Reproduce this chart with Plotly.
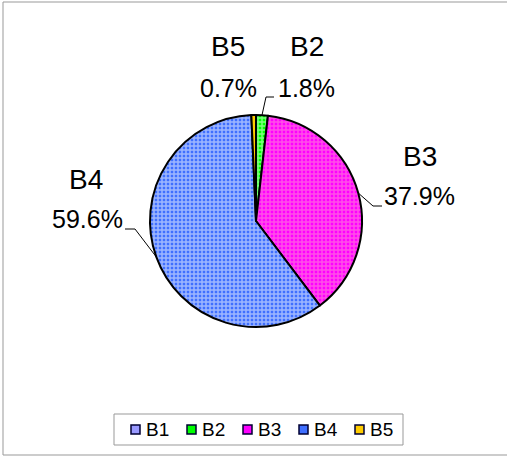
import math
import plotly.graph_objects as go

# ---- data ----
labels = ["B1", "B2", "B3", "B4", "B5"]
values = [0.0, 1.8, 37.9, 59.6, 0.7]
pct_text = ["0.0%", "1.8%", "37.9%", "59.6%", "0.7%"]

# ---- style ----
W, H = 507, 457
colors = ["#9999FF", "#00FF00", "#FF00FF", "#3F6FFF", "#FFCC00"]
fg = ["#FFFFFF", "#FFFFFF", "#FFA0D0", "#FFFFFF", "#FFCC00"]
shapes_pat = ["", "+", "+", "+", ""]

CX, CY, R = 256, 221, 106  # pie centre / radius in px


def px(x):
    return x / W


def py(y):
    return 1 - y / H


fig = go.Figure()
fig.add_trace(go.Pie(
    labels=labels, values=values, sort=False, direction="clockwise", rotation=0,
    textinfo="none", hoverinfo="label+percent", showlegend=False,
    marker=dict(colors=colors, line=dict(color="black", width=2),
                pattern=dict(shape=shapes_pat, fgcolor=fg, size=4, solidity=0.6,
                             fillmode="overlay")),
    domain=dict(x=[px(CX - R), px(CX + R)], y=[py(CY + R), py(CY - R)]),
))

# label layout (name position, percent position, leader elbow, leader end) in px
label_layout = {
    "B2": dict(name=(307, 46), pct=(306, 88), line=[(266, 97), (274, 97)]),
    "B3": dict(name=(420, 157), pct=(419, 196), line=[(373, 206), (382, 206)]),
    "B4": dict(name=(86, 179), pct=(87, 219), line=[(135, 229), (125, 229)]),
    "B5": dict(name=(228, 46), pct=(228, 88), line=None),
}

total = sum(values)
cum = 0.0
annotations = []
shapes = []
for lab, v, t in zip(labels, values, pct_text):
    mid = (cum + v / 2) / total
    cum += v
    if lab not in label_layout:
        continue
    L = label_layout[lab]
    ang = 2 * math.pi * mid
    ex, ey = CX + R * math.sin(ang), CY - R * math.cos(ang)
    annotations.append(dict(x=px(L["name"][0]), y=py(L["name"][1]), text=lab, showarrow=False,
                            xref="paper", yref="paper", xanchor="center", yanchor="middle",
                            font=dict(family="Liberation Sans", size=28, color="black")))
    annotations.append(dict(x=px(L["pct"][0]), y=py(L["pct"][1]), text=t, showarrow=False,
                            xref="paper", yref="paper", xanchor="center", yanchor="middle",
                            font=dict(family="Liberation Sans", size=25, color="black")))
    if L["line"]:
        pts = [(ex, ey)] + L["line"]
        path = "M " + " L ".join(f"{px(a)},{py(b)}" for a, b in pts)
        shapes.append(dict(type="path", path=path, xref="paper", yref="paper",
                           line=dict(color="black", width=1)))

# outer frame
shapes.append(dict(type="rect", xref="paper", yref="paper", x0=px(3), x1=1.05,
                   y0=py(455), y1=py(2), line=dict(color="#999999", width=1)))

# legend box (bottom, horizontal)
LEG_X0, LEG_X1, LEG_Y0, LEG_Y1 = 114, 403, 414, 445
LEG_SYM_X, LEG_PITCH, LEG_SYM = 131, 56, 9
shapes.append(dict(type="rect", xref="paper", yref="paper", x0=px(LEG_X0), x1=px(LEG_X1),
                   y0=py(LEG_Y1), y1=py(LEG_Y0), line=dict(color="#999999", width=1),
                   fillcolor="white", layer="below"))
ymid = (LEG_Y0 + LEG_Y1) / 2
for i, (lab, col) in enumerate(zip(labels, colors)):
    sx = LEG_SYM_X + LEG_PITCH * i
    shapes.append(dict(type="rect", xref="paper", yref="paper",
                       x0=px(sx), x1=px(sx + LEG_SYM), y0=py(ymid + LEG_SYM / 2),
                       y1=py(ymid - LEG_SYM / 2), fillcolor=col,
                       line=dict(color="#000033", width=1.5)))
    annotations.append(dict(x=px(sx + LEG_SYM + 4), y=py(ymid), text=lab, showarrow=False,
                            xref="paper", yref="paper", xanchor="left", yanchor="middle",
                            font=dict(family="Liberation Sans", size=19, color="black")))

fig.update_layout(
    width=W, height=H, margin=dict(l=0, r=0, t=0, b=0),
    paper_bgcolor="white", plot_bgcolor="white",
    annotations=annotations, shapes=shapes,
    showlegend=False,
)

fig.write_html("out.html", config={"displayModeBar": False},
               post_script="document.body.style.margin='0';document.body.style.overflow='hidden';")
